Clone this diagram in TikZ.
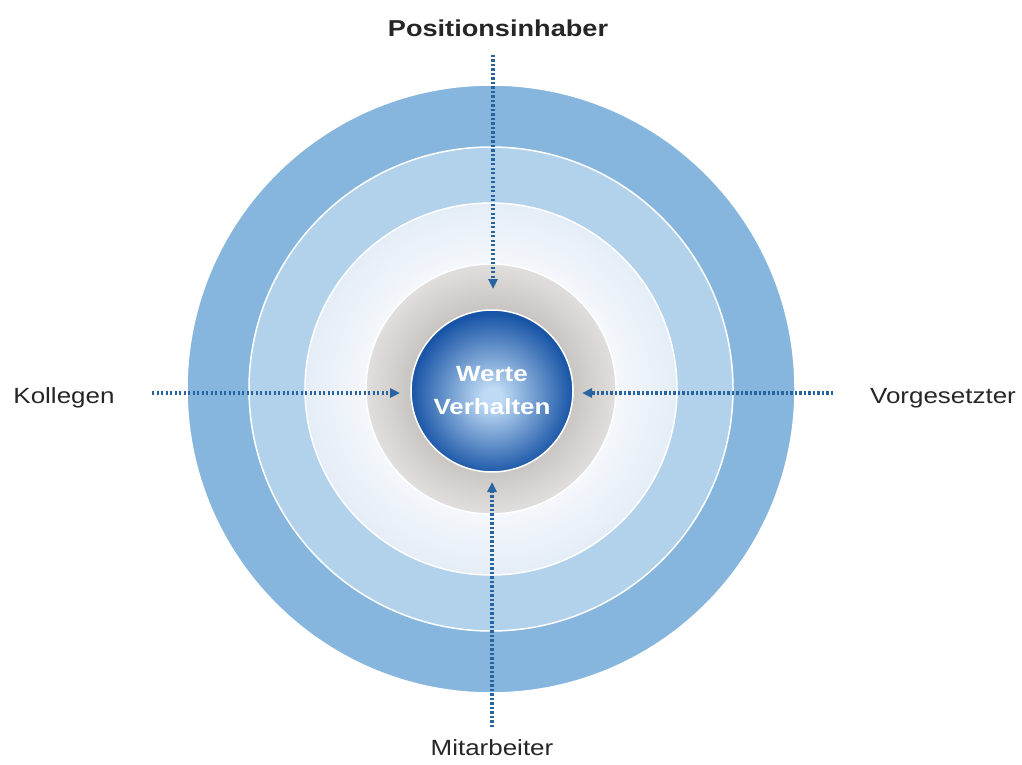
\documentclass[tikz,border=0pt]{standalone}
\usepackage{fontspec}
\setmainfont{Liberation Sans}[FakeStretch=1.18]
\definecolor{ring-outer}{RGB}{134,182,221}
\definecolor{ring-mid}{RGB}{178,210,236}
\definecolor{pale-in}{RGB}{244,247,251}
\definecolor{pale-out}{RGB}{228,237,247}
\definecolor{grey-in}{RGB}{200,196,193}
\definecolor{grey-out}{RGB}{225,223,221}
\definecolor{core-light}{RGB}{190,218,244}
\definecolor{core-dark}{RGB}{24,84,166}
\definecolor{pointer}{RGB}{40,100,160}
\usetikzlibrary{
  arrows.meta,     % arrow tips with length and width
  positioning      % positions like above of node
}
\pgfdeclareradialshading{paleshade}{\pgfpoint{0bp}{0bp}}{%
  color(0bp)=(pale-in); color(17bp)=(pale-in); color(25bp)=(pale-out); color(50bp)=(pale-out)}
\pgfdeclareradialshading{greyshade}{\pgfpoint{0bp}{0bp}}{%
  color(0bp)=(grey-in); color(16bp)=(grey-in); color(25bp)=(grey-out); color(50bp)=(grey-out)}
\pgfdeclareradialshading{coreshade}{\pgfpoint{0bp}{-2bp}}{%
  color(0bp)=(core-light); color(3bp)=(core-light); color(25bp)=(core-dark); color(50bp)=(core-dark)}
\tikzset{
  x=1pt, y=-1pt,
  ring/.style = {
    circle,
    draw=white,
    line width=1.5pt,
    inner sep=0pt,
    outer sep=0pt
  },
  core/.append style = {ring, shading=coreshade, text=white,
    font=\fontsize{22}{33}\selectfont\bfseries, align=center},
  who/.append style = {anchor=base, text=black!85,
    font=\fontsize{22}{26}\selectfont},
  pointer-line/.style = {draw=pointer, line width=3.3pt,
    dash pattern=on 2.3pt off 2.2pt},
  >={Triangle[length=10pt,width=9pt]}
}

\begin{document}
\begin{tikzpicture}
  \useasboundingbox (0,0) rectangle (1022,765);

  %% rings
  \node[ring, fill=ring-outer, minimum size=608pt] (outer) at (491,389) {};
  \node[ring, fill=ring-mid, minimum size=484pt] (middle) at (outer) {};
  \node[ring, shading=paleshade, minimum size=372pt] (pale) at (outer) {};
  \node[ring, shading=greyshade, minimum size=250pt] (grey) at (outer) {};
  \node[core, minimum size=162pt] (core) at (492,391) {Werte\\Verhalten};

  %% labels
  \node[who, font=\fontsize{23}{26}\selectfont\bfseries] (pos) at (498,37) {Positionsinhaber};
  \node[who] (kol) at (64,403) {Kollegen};
  \node[who] (vor) at (943,403) {Vorgesetzter};
  \node[who] (mit) at (492,755) {Mitarbeiter};

  %% arrow ends
  \coordinate (pos-start) at (493,55);
  \coordinate (pos-tip) at (493,289);
  \coordinate (kol-start) at (152,393);
  \coordinate (kol-tip) at (400,393);
  \coordinate (vor-start) at (833,393);
  \coordinate (vor-tip) at (582,393);
  \coordinate (mit-start) at (492,727);
  \coordinate (mit-tip) at (492,482);

  %% arrows
  \draw[pointer-line, ->] (pos-start) -- (pos-tip);
  \draw[pointer-line, ->] (kol-start) -- (kol-tip);
  \draw[pointer-line, ->] (vor-start) -- (vor-tip);
  \draw[pointer-line, ->] (mit-start) -- (mit-tip);

\end{tikzpicture}
\end{document}
